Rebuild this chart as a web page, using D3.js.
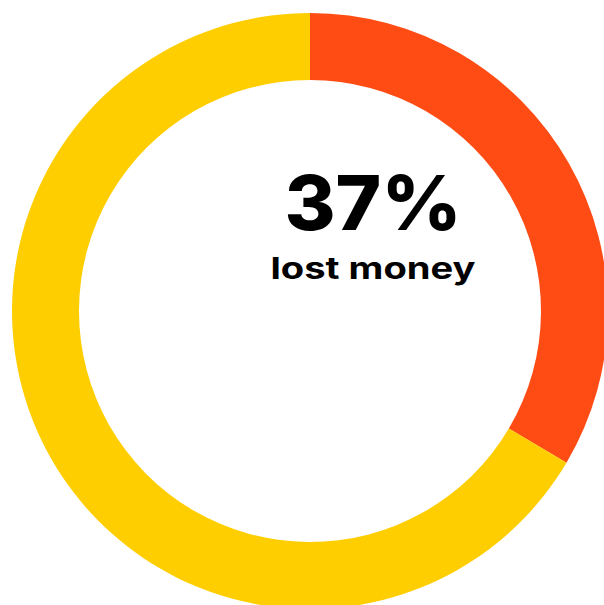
<!DOCTYPE html>
<meta charset="utf-8">
<style>
body {margin: 0; background: #fff;}
.big {font: 800 76px Inter, sans-serif; text-anchor: middle;}
.sub {font: 700 30px Inter, sans-serif; text-anchor: middle;}
</style>
<body>
<script src="https://d3js.org/d3.v7.min.js"></script>
<div id="donut"></div>
</body>
<script>
// data
var categories = ["lost money", "other"];
var values = [33.5, 66.5];      // share of the ring as drawn
var colors = ["#ff4b14", "#ffce00"];
var headline = "37%";
var caption = "lost money";

var width = 604,
    height = 605,
    cx = 310,
    cy = 311,
    outer = 298,
    inner = 231;

var svg = d3.select("#donut").append("svg")
    .attr("width", width)
    .attr("height", height);

var pie = d3.pie().sort(null).value(function(d) { return d; });
var arc = d3.arc().innerRadius(inner).outerRadius(outer);

var g = svg.append("g").attr("transform", "translate(" + cx + "," + cy + ")");

g.selectAll("path")
    .data(pie(values))
    .enter().append("path")
    .attr("d", arc)
    .attr("fill", function(d, i) { return colors[i]; });

// centre labels, stretched to the reference widths
svg.append("text")
    .attr("class", "big")
    .attr("x", 373)
    .attr("y", 230)
    .attr("textLength", 177)
    .attr("lengthAdjust", "spacingAndGlyphs")
    .text(headline);

svg.append("text")
    .attr("class", "sub")
    .attr("x", 373)
    .attr("y", 279)
    .attr("textLength", 205)
    .attr("lengthAdjust", "spacingAndGlyphs")
    .text(caption);
</script>
